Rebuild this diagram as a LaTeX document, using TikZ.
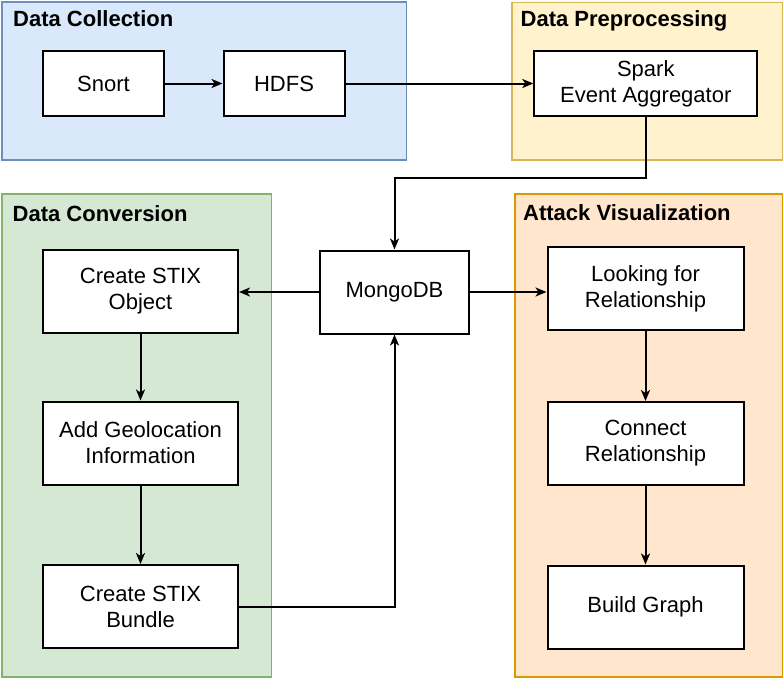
\documentclass[tikz,border=0pt]{standalone}
\usepackage{fontspec}
\setmainfont{Liberation Sans}
\usepackage{tikz}
\usetikzlibrary{arrows.meta, calc}
\definecolor{blueF}{HTML}{DAE8FC}\definecolor{blueL}{HTML}{6C8EBF}
\definecolor{yellowF}{HTML}{FFF2CC}\definecolor{yellowL}{HTML}{D6B656}
\definecolor{greenF}{HTML}{D5E8D4}\definecolor{greenL}{HTML}{82B366}
\definecolor{orangeF}{HTML}{FFE6CC}\definecolor{orangeL}{HTML}{D79B00}
\tikzset{
    bnode/.style={draw=black,fill=white,line width=2pt,align=center,inner sep=0pt,
        font=\fontsize{22}{26}\selectfont},
    grp/.style={draw,line width=1.6pt,anchor=north west,inner sep=0pt},
    ttl/.style={anchor=base west,inner sep=0pt,font=\fontsize{22}{26}\selectfont\bfseries},
    arr/.style={draw,line width=2pt,-{Stealth[length=11pt,width=9pt,inset=3pt]}},
    flow/.style={
        x=1pt,y=-1pt,
        every edge/.style={arr},
    }
}

\begin{document}
\begin{tikzpicture}[flow]
\useasboundingbox (0,0) rectangle (784,678);
% groups
\node[grp,draw=blueL,fill=blueF,minimum width=404.5pt,minimum height=158pt] (col) at (1,1) {};
\node[grp,draw=yellowL,fill=yellowF,minimum width=270.5pt,minimum height=157.5pt] (pre) at (511,1.7) {};
\node[grp,draw=greenL,fill=greenF,minimum width=269.5pt,minimum height=483pt] (conv) at (1,193.3) {};
\node[grp,draw=orangeL,fill=orangeF,minimum width=267.5pt,minimum height=483pt] (vis) at (514.3,193.3) {};
\node[ttl] at (13,26) {Data Collection};
\node[ttl] at (520.5,26.5) {Data Preprocessing};
\node[ttl] at (12.5,221.5) {Data Conversion};
\node[ttl] at (523,220) {Attack Visualization};
% steps
\node[bnode,minimum width=121pt,minimum height=65pt] (snort) at (103.5,83.5) {Snort};
\node[bnode,minimum width=121pt,minimum height=65pt] (hdfs) at (284,83.5) {HDFS};
\node[bnode,minimum width=223pt,minimum height=65pt] (spark) at (645.8,83.5) {Spark\\Event Aggregator};
\node[bnode,minimum width=149pt,minimum height=83pt] (mongo) at (394.5,292) {MongoDB};
\node[bnode,minimum width=195pt,minimum height=83pt] (obj) at (140.5,291) {Create STIX\\Object};
\node[bnode,minimum width=195pt,minimum height=83pt] (geo) at (140.5,443) {Add Geolocation\\Information};
\node[bnode,minimum width=195pt,minimum height=83pt] (bundle) at (140.5,606.5) {Create STIX\\Bundle};
\node[bnode,minimum width=196pt,minimum height=83pt] (look) at (645.5,288.5) {Looking for\\Relationship};
\node[bnode,minimum width=196pt,minimum height=83pt] (conn) at (645.5,443.5) {Connect\\Relationship};
\node[bnode,minimum width=196pt,minimum height=83pt] (build) at (645.5,607) {Build Graph};
\coordinate (turn) at (394.5,178);
\path
(snort) edge (hdfs)
(hdfs) edge (spark)
(mongo.west) edge (mongo.west -| obj.east)
(mongo.east) edge (mongo.east -| look.west)
(obj) edge (geo)
(geo) edge (bundle)
(look) edge (conn)
(conn) edge (build)
;
\draw[arr] (spark.south) |- (turn) -- (mongo.north);
\draw[arr] (bundle.east) -| (mongo.south);
\end{tikzpicture}
\end{document}
